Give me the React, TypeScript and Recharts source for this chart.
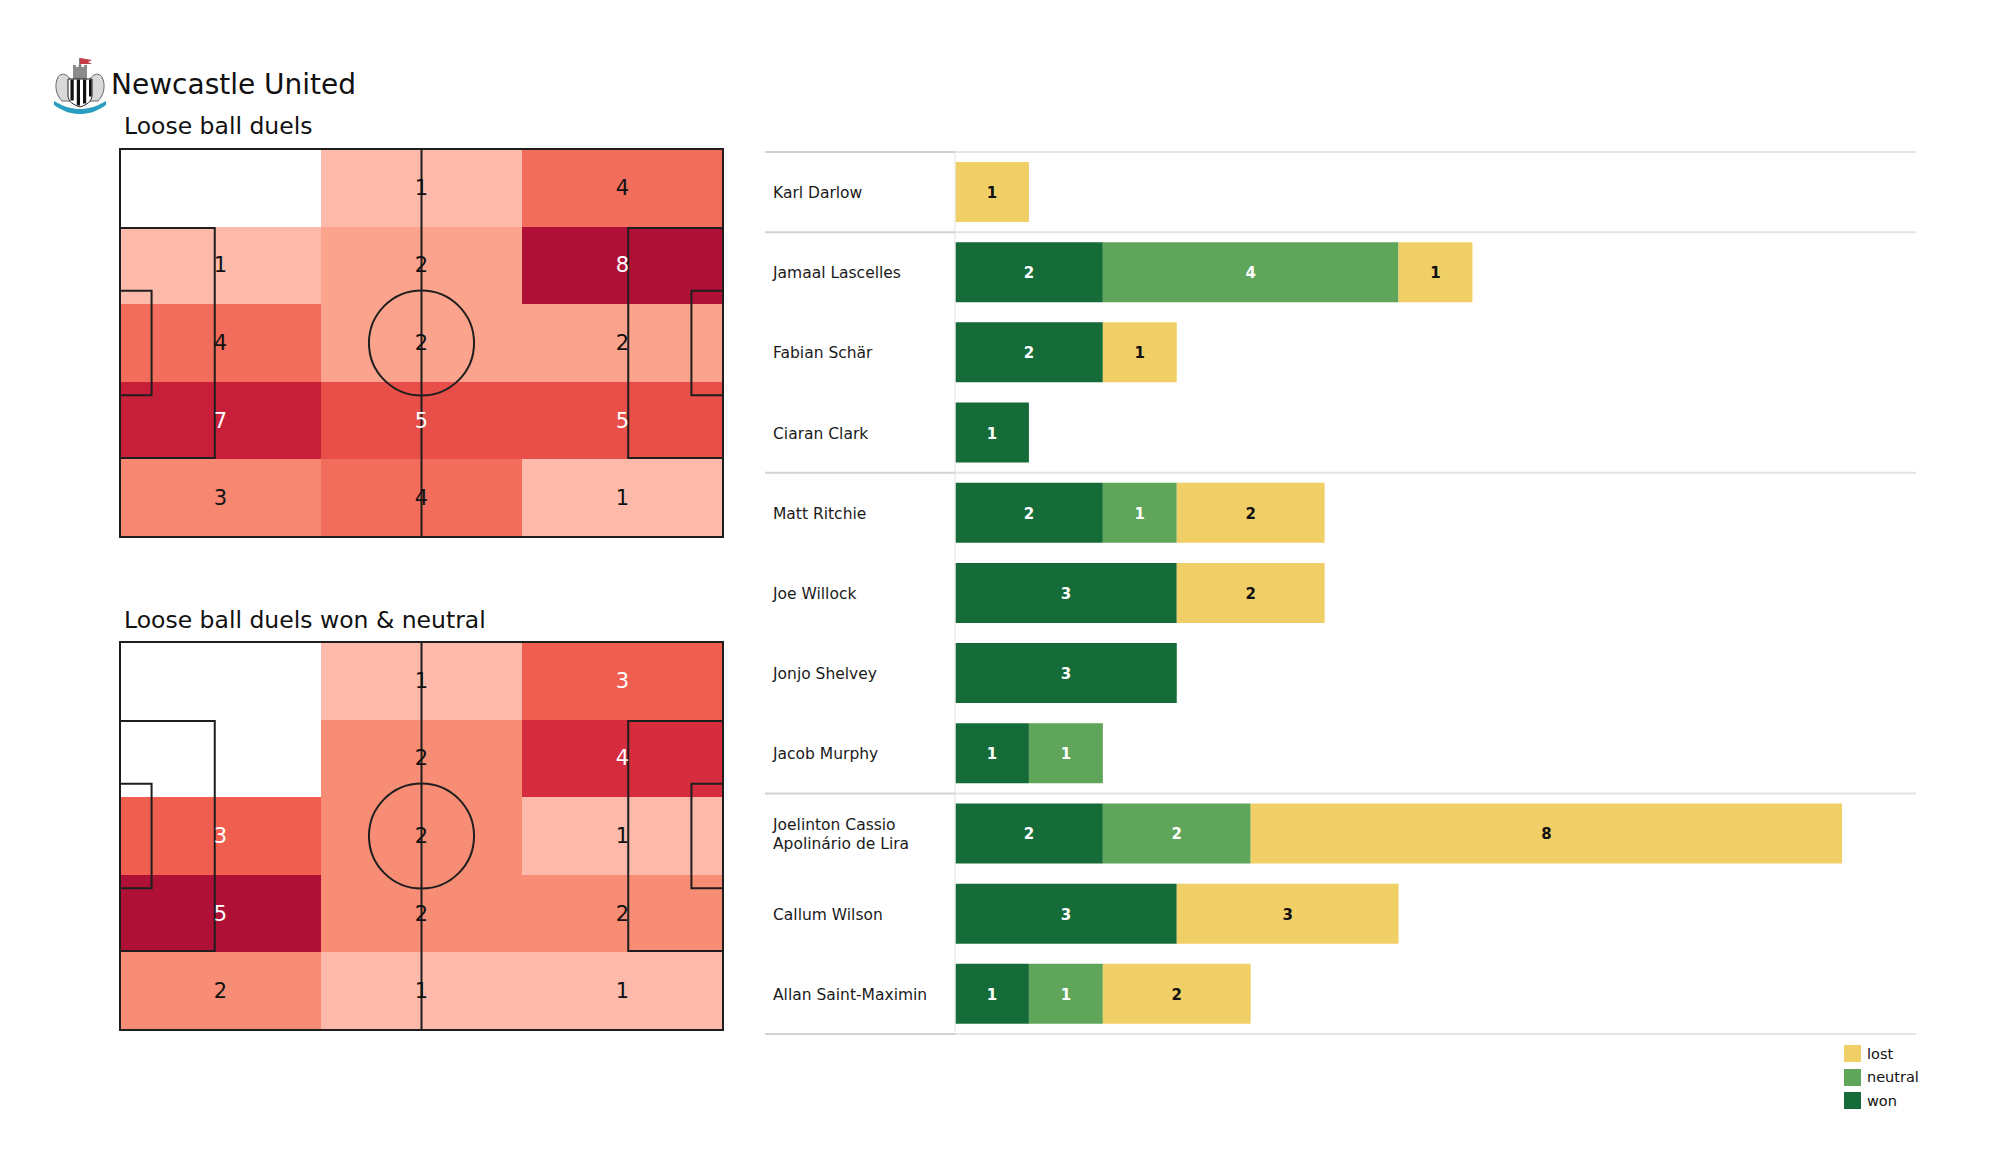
import React from "react";
import {
  Bar,
  BarChart,
  LabelList,
  ReferenceArea,
  ReferenceDot,
  ReferenceLine,
  Scatter,
  ScatterChart,
  XAxis,
  YAxis,
} from "recharts";

const FONT = "'DejaVu Sans', sans-serif";

// pitch zones, rows top -> bottom, columns own goal -> opponent goal
const ALL_DUELS = [
  [0, 1, 4],
  [1, 2, 8],
  [4, 2, 2],
  [7, 5, 5],
  [3, 4, 1],
];
const WON_NEUTRAL = [
  [0, 1, 3],
  [0, 2, 4],
  [3, 2, 1],
  [5, 2, 2],
  [2, 1, 1],
];

const PLAYERS = [
  "Karl Darlow",
  "Jamaal Lascelles",
  "Fabian Schär",
  "Ciaran Clark",
  "Matt Ritchie",
  "Joe Willock",
  "Jonjo Shelvey",
  "Jacob Murphy",
  "Joelinton Cassio Apolinário de Lira",
  "Callum Wilson",
  "Allan Saint-Maximin",
];
const WON = [0, 2, 2, 1, 2, 3, 3, 1, 2, 3, 1];
const NEUTRAL = [0, 4, 0, 0, 1, 0, 0, 1, 2, 0, 1];
const LOST = [1, 1, 1, 0, 2, 2, 0, 0, 8, 3, 2];
// GK, defenders, midfielders, forwards
const GROUP_SIZES = [1, 3, 4, 3];

const WON_COLOR = "#166c38";
const NEUTRAL_COLOR = "#5fa55a";
const LOST_COLOR = "#f0cf66";

const PITCH_L = 105;
const PITCH_W = 68;
const PW = 603;
const PH = 388;
const M = 4;

const HEAT_STOPS: [number, string][] = [
  [0.25, "#fdbaaa"],
  [0.336, "#fca38d"],
  [0.4, "#f88d75"],
  [0.507, "#f26d5b"],
  [0.55, "#ef5e4e"],
  [0.59, "#ea5049"],
  [0.7, "#d62d3e"],
  [0.76, "#c8203a"],
  [0.85, "#af1036"],
];

function hex(c: string) {
  return [1, 3, 5].map((i) => parseInt(c.slice(i, i + 2), 16));
}

function heatColor(v: number, max: number) {
  const t = 0.25 + 0.6 * (max > 1 ? (v - 1) / (max - 1) : 1);
  for (let i = 0; i < HEAT_STOPS.length - 1; i++) {
    const [t0, c0] = HEAT_STOPS[i];
    const [t1, c1] = HEAT_STOPS[i + 1];
    if (t <= t1) {
      const f = Math.max(0, (t - t0) / (t1 - t0));
      const a = hex(c0);
      const b = hex(c1);
      return `rgb(${a.map((x, k) => Math.round(x + (b[k] - x) * f)).join(",")})`;
    }
  }
  return HEAT_STOPS[HEAT_STOPS.length - 1][1];
}

const LINE = "#1e1e1e";

function Pitch({ grid, top }: { grid: number[][]; top: number }) {
  const max = Math.max(...grid.flat());
  const colW = PITCH_L / grid[0].length;
  const rowH = PITCH_W / grid.length;
  const cells = grid.flatMap((row, r) =>
    row.map((v, c) => ({
      x: (c + 0.5) * colW,
      y: PITCH_W - (r + 0.5) * rowH,
      x1: c * colW,
      x2: (c + 1) * colW,
      y1: PITCH_W - (r + 1) * rowH,
      y2: PITCH_W - r * rowH,
      v,
    }))
  );
  const boxes = [
    [0, PITCH_L, 0, PITCH_W],
    [0, 16.5, 13.84, 54.16],
    [0, 5.5, 24.84, 43.16],
    [88.5, PITCH_L, 13.84, 54.16],
    [99.5, PITCH_L, 24.84, 43.16],
  ];

  return (
    <div style={{ position: "absolute", left: 120 - M, top: top - M }}>
      <ScatterChart
        width={PW + 2 * M}
        height={PH + 2 * M}
        margin={{ top: M, right: M, bottom: M, left: M }}
      >
        <XAxis type="number" dataKey="x" domain={[0, PITCH_L]} hide />
        <YAxis type="number" dataKey="y" domain={[0, PITCH_W]} hide />
        {cells
          .filter((c) => c.v > 0)
          .map((c, i) => (
            <ReferenceArea
              key={`cell-${i}`}
              x1={c.x1}
              x2={c.x2}
              y1={c.y1}
              y2={c.y2}
              fill={heatColor(c.v, max)}
              fillOpacity={1}
              stroke="none"
              shapeRendering="crispEdges"
            />
          ))}
        {boxes.map(([x1, x2, y1, y2], i) => (
          <ReferenceArea
            key={`box-${i}`}
            x1={x1}
            x2={x2}
            y1={y1}
            y2={y2}
            fill="none"
            fillOpacity={0}
            stroke={LINE}
            strokeWidth={2}
            ifOverflow="visible"
          />
        ))}
        <ReferenceLine x={PITCH_L / 2} stroke={LINE} strokeWidth={2} />
        <ReferenceDot
          x={PITCH_L / 2}
          y={PITCH_W / 2}
          r={(9.15 * PW) / PITCH_L}
          fill="none"
          stroke={LINE}
          strokeWidth={2}
        />
        <Scatter
          data={cells}
          isAnimationActive={false}
          shape={(p: any) =>
            p.payload.v > 0 ? (
              <text
                x={p.cx}
                y={p.cy}
                textAnchor="middle"
                dominantBaseline="central"
                fontFamily={FONT}
                fontSize={21}
                fill={p.payload.v / max >= 0.6 ? "#ffffff" : "#111111"}
              >
                {p.payload.v}
              </text>
            ) : (
              <g />
            )
          }
        />
      </ScatterChart>
    </div>
  );
}

const rows = PLAYERS.map((name, i) => ({
  name,
  won: WON[i],
  neutral: NEUTRAL[i],
  lost: LOST[i],
}));

// group boundaries: first player of each group (band start) + last player (band end)
const groupStarts = GROUP_SIZES.reduce(
  (acc, n) => [...acc, acc[acc.length - 1] + n],
  [0]
).slice(0, -1);
const separators = [
  ...groupStarts.map((i) => ({ name: PLAYERS[i], pos: "start" as const })),
  { name: PLAYERS[PLAYERS.length - 1], pos: "end" as const },
];

const BAR_W = 1180;
const YAXIS_W = 190;
const X_MAX = 13;
const PLOT_W = 961;
const LEFT_X = -(YAXIS_W * X_MAX) / PLOT_W;

function NameTick({ y, payload }: any) {
  const words = String(payload.value).split(" ");
  const lines =
    payload.value.length > 22
      ? [words.slice(0, 2).join(" "), words.slice(2).join(" ")]
      : [payload.value];
  return (
    <text
      x={8}
      y={y}
      fontFamily={FONT}
      fontSize={15.5}
      fill="#1a1a1a"
      textAnchor="start"
    >
      {lines.map((l, i) => (
        <tspan
          key={i}
          x={8}
          dy={i === 0 ? (lines.length > 1 ? -4 : 6) : 19.5}
        >
          {l}
        </tspan>
      ))}
    </text>
  );
}

function valueLabel(color: string) {
  return (p: any) => {
    const { x, y, width, height, value } = p;
    if (!value) return null;
    return (
      <text
        x={x + width / 2}
        y={y + height / 2 + 1}
        textAnchor="middle"
        dominantBaseline="central"
        fontFamily={FONT}
        fontWeight="bold"
        fontSize={15}
        fill={color}
      >
        {value}
      </text>
    );
  };
}

function DuelBars() {
  return (
    <div style={{ position: "absolute", left: 765, top: 142 }}>
      <BarChart
        width={BAR_W}
        height={902}
        data={rows}
        layout="vertical"
        margin={{ top: 10, right: BAR_W - YAXIS_W - PLOT_W, bottom: 10, left: 0 }}
      >
        <XAxis type="number" domain={[0, X_MAX]} hide allowDataOverflow />
        <YAxis
          type="category"
          dataKey="name"
          width={YAXIS_W}
          axisLine={false}
          tickLine={false}
          interval={0}
          tick={<NameTick />}
        />
        <ReferenceLine x={0} stroke="#ededed" strokeWidth={1.5} />
        {separators.map((s) => (
          <ReferenceLine
            key={`r-${s.name}-${s.pos}`}
            position={s.pos}
            segment={[
              { x: 0, y: s.name },
              { x: X_MAX, y: s.name },
            ]}
            stroke="#e4e4e4"
            strokeWidth={2}
          />
        ))}
        {separators.map((s) => (
          <ReferenceLine
            key={`l-${s.name}-${s.pos}`}
            position={s.pos}
            segment={[
              { x: LEFT_X, y: s.name },
              { x: 0, y: s.name },
            ]}
            ifOverflow="visible"
            stroke="#d2d2d2"
            strokeWidth={2}
          />
        ))}
        <Bar dataKey="won" stackId="a" fill={WON_COLOR} barSize={60} isAnimationActive={false}>
          <LabelList dataKey="won" content={valueLabel("#ffffff")} />
        </Bar>
        <Bar dataKey="neutral" stackId="a" fill={NEUTRAL_COLOR} barSize={60} isAnimationActive={false}>
          <LabelList dataKey="neutral" content={valueLabel("#ffffff")} />
        </Bar>
        <Bar dataKey="lost" stackId="a" fill={LOST_COLOR} barSize={60} isAnimationActive={false}>
          <LabelList dataKey="lost" content={valueLabel("#111111")} />
        </Bar>
      </BarChart>
    </div>
  );
}

const LEGEND = [
  { label: "lost", color: LOST_COLOR },
  { label: "neutral", color: NEUTRAL_COLOR },
  { label: "won", color: WON_COLOR },
];

function Crest() {
  return (
    <svg width={60} height={60} style={{ position: "absolute", left: 50, top: 55 }}>
      <line x1={30} y1={3} x2={30} y2={14} stroke="#555" strokeWidth={1.5} />
      <path d="M30 3 L42 5 L38 7 L42 9 L30 9 Z" fill="#c63b45" />
      <rect x={23} y={12} width={14} height={12} fill="#8b8b8b" />
      <rect x={23} y={10} width={3} height={3} fill="#8b8b8b" />
      <rect x={28.5} y={10} width={3} height={3} fill="#8b8b8b" />
      <rect x={34} y={10} width={3} height={3} fill="#8b8b8b" />
      <path d="M8 22 C4 30 6 40 12 46 L20 46 L20 24 C16 18 11 18 8 22 Z" fill="#d9d9d9" stroke="#666" strokeWidth={1} />
      <path d="M52 22 C56 30 54 40 48 46 L40 46 L40 24 C44 18 49 18 52 22 Z" fill="#d9d9d9" stroke="#666" strokeWidth={1} />
      <path d="M18 24 L42 24 L42 40 C42 47 36 50 30 52 C24 50 18 47 18 40 Z" fill="#ffffff" stroke="#222" strokeWidth={1} />
      <rect x={20.5} y={24.5} width={3.2} height={21} fill="#111" />
      <rect x={26.8} y={24.5} width={3.2} height={26} fill="#111" />
      <rect x={33} y={24.5} width={3.2} height={24} fill="#111" />
      <rect x={39} y={24.5} width={2.6} height={17} fill="#111" />
      <path d="M4 46 C14 52 22 54 30 54 C38 54 46 52 56 46 L56 50 C46 57 38 59 30 59 C22 59 14 57 4 50 Z" fill="#2a9ec0" />
    </svg>
  );
}

export default function App() {
  return (
    <div
      style={{
        position: "absolute",
        left: 0,
        top: 0,
        width: 2000,
        height: 1175,
        background: "#ffffff",
        fontFamily: FONT,
        color: "#111",
      }}
    >
      <Crest />
      <svg width={2000} height={160} style={{ position: "absolute", left: 0, top: 0 }}>
        <text x={111} y={93.5} fontFamily={FONT} fontSize={28} fill="#111">
          Newcastle United
        </text>
        <text x={124} y={133.5} fontFamily={FONT} fontSize={23.5} fill="#111">
          Loose ball duels
        </text>
      </svg>
      <svg width={600} height={40} style={{ position: "absolute", left: 0, top: 600 }}>
        <text x={124} y={27.5} fontFamily={FONT} fontSize={23.5} fill="#111">
          Loose ball duels won &amp; neutral
        </text>
      </svg>
      <Pitch grid={ALL_DUELS} top={149} />
      <Pitch grid={WON_NEUTRAL} top={642} />
      <DuelBars />
      <div style={{ position: "absolute", left: 1844, top: 1042 }}>
        {LEGEND.map((l) => (
          <div
            key={l.label}
            style={{ display: "flex", alignItems: "center", height: 23.5, fontSize: 14.5 }}
          >
            <div style={{ width: 17, height: 17, background: l.color, marginRight: 6 }} />
            <span>{l.label}</span>
          </div>
        ))}
      </div>
    </div>
  );
}
